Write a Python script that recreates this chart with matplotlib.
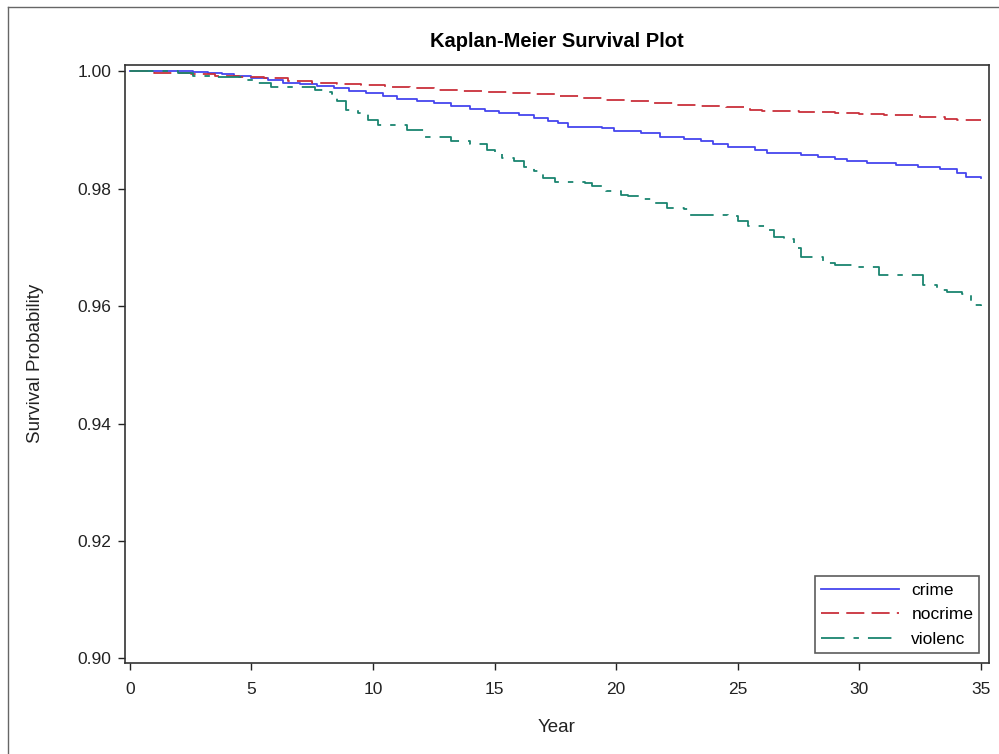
import matplotlib
matplotlib.use('Agg')
import matplotlib.pyplot as plt
from matplotlib.lines import Line2D

plt.rcParams['font.family'] = ['Liberation Sans', 'DejaVu Sans']

# Kaplan-Meier step estimates (year, survival)
crime_t = [0, 2.6, 3.2, 3.8, 4.3, 5.0, 5.7, 6.3, 7.0, 7.7, 8.4, 9.0, 9.7, 10.4, 11.0,
           11.8, 12.5, 13.2, 14.0, 14.6, 15.2, 16.0, 16.6, 17.2, 17.6, 18.0, 19.4,
           19.9, 21.0, 21.8, 22.8, 23.5, 24.0, 24.6, 25.7, 26.2, 27.6, 28.3, 29.0,
           29.5, 30.3, 31.5, 32.4, 33.3, 34.0, 34.4, 35.0]
crime_s = [1.0, 0.9999, 0.9997, 0.9995, 0.9992, 0.9989, 0.9985, 0.9981, 0.9978,
           0.9975, 0.9972, 0.9967, 0.9963, 0.9958, 0.9953, 0.9949, 0.9946, 0.9941,
           0.9936, 0.9933, 0.9930, 0.9926, 0.9921, 0.9916, 0.9912, 0.9906, 0.9903,
           0.9898, 0.9895, 0.9889, 0.9885, 0.9881, 0.9877, 0.9872, 0.9867, 0.9861,
           0.9858, 0.9855, 0.9851, 0.9848, 0.9844, 0.9840, 0.9837, 0.9833, 0.9827,
           0.9821, 0.9819]

nocrime_t = [0, 1.0, 2.5, 3.5, 4.5, 5.5, 6.5, 7.5, 8.5, 9.5, 10.5, 11.5, 12.5, 13.5,
             14.5, 15.5, 16.5, 17.5, 18.5, 19.5, 20.5, 21.5, 22.5, 23.5, 24.5, 25.5,
             26.0, 27.5, 29.0, 30.0, 31.0, 32.5, 33.5, 34.0, 35.0]
nocrime_s = [1.0, 0.9998, 0.9995, 0.9993, 0.9991, 0.9988, 0.9984, 0.9981, 0.9979,
             0.9977, 0.9974, 0.9971, 0.9969, 0.9967, 0.9965, 0.9963, 0.9961, 0.9958,
             0.9955, 0.9952, 0.9950, 0.9946, 0.9943, 0.9941, 0.9939, 0.9935, 0.9932,
             0.9931, 0.9929, 0.9927, 0.9925, 0.9923, 0.9919, 0.9917, 0.9917]

violenc_t = [0, 2.0, 2.6, 3.5, 4.6, 5.2, 5.8, 7.6, 8.0, 8.3, 8.5, 8.9, 9.4, 9.8, 10.2,
             11.4, 12.1, 13.2, 14.0, 14.7, 15.0, 15.3, 15.8, 16.2, 16.6, 17.0, 17.5,
             18.7, 19.0, 19.6, 20.2, 20.5, 21.1, 21.6, 22.1, 22.8, 23.0, 24.6, 25.0,
             25.4, 26.2, 26.5, 26.9, 27.3, 27.6, 28.5, 29.0, 29.9, 30.8, 32.6, 33.2,
             33.6, 34.2, 34.6, 35.0]
violenc_s = [1.0, 0.9997, 0.9992, 0.9990, 0.9985, 0.9980, 0.9973, 0.9969, 0.9965,
             0.9961, 0.9950, 0.9935, 0.9930, 0.9918, 0.9908, 0.9901, 0.9889, 0.9881,
             0.9876, 0.9867, 0.9860, 0.9853, 0.9848, 0.9838, 0.9830, 0.9818, 0.9812,
             0.9810, 0.9805, 0.9796, 0.9790, 0.9788, 0.9782, 0.9776, 0.9768, 0.9766,
             0.9755, 0.9754, 0.9745, 0.9736, 0.9730, 0.9718, 0.9714, 0.9700, 0.9684,
             0.9674, 0.9670, 0.9667, 0.9653, 0.9636, 0.9627, 0.9625, 0.9620, 0.9602,
             0.9600]

x_ticks = [0, 5, 10, 15, 20, 25, 30, 35]
y_ticks = [0.90, 0.92, 0.94, 0.96, 0.98, 1.00]

blue = '#4545ee'
red = '#c9303c'
teal = '#1a8570'

fig = plt.figure(figsize=(9.99, 7.54), dpi=100)
ax = fig.add_axes([0.1251, 0.1211, 0.8649, 0.7927])

ax.plot(crime_t, crime_s, drawstyle='steps-post', color=blue, lw=1.3, label='crime')
ax.plot(nocrime_t, nocrime_s, drawstyle='steps-post', color=red, lw=1.3,
        linestyle=(0, (10, 4)), label='nocrime')
ax.plot(violenc_t, violenc_s, drawstyle='steps-post', color=teal, lw=1.3,
        linestyle=(0, (13, 5, 3, 5)), label='violenc')

ax.set_xlim(-0.2, 35.33)
ax.set_ylim(0.89927, 1.0011)
ax.set_xticks(x_ticks)
ax.set_yticks(y_ticks)
ax.set_yticklabels(['%.2f' % v for v in y_ticks])
ax.tick_params(direction='out', length=5, width=1, labelsize=12.5, colors='#222222')
ax.tick_params(axis='x', pad=9)
ax.tick_params(axis='y', pad=5)
for side in ax.spines.values():
    side.set_linewidth(1.2)
    side.set_color('#333333')

ax.set_xlabel('Year', fontsize=13.5, color='#222222', labelpad=16)
ax.set_ylabel('Survival Probability', fontsize=13.5, color='#222222', labelpad=24)
ax.set_title('Kaplan-Meier Survival Plot', fontsize=14.5, fontweight='bold', pad=13)

leg = ax.legend(loc='lower right', fontsize=12.5, handlelength=4.5, frameon=True,
                fancybox=False, edgecolor='#333333', borderaxespad=0.55,
                labelspacing=0.55, borderpad=0.35, handletextpad=0.7)
leg.get_frame().set_linewidth(1.2)

# outer frame of the exported graph
fig.add_artist(Line2D([0.008, 1.0], [0.9907, 0.9907], color='#666666', lw=1,
                      transform=fig.transFigure))
fig.add_artist(Line2D([0.008, 0.008], [0.0, 0.9907], color='#666666', lw=1,
                      transform=fig.transFigure))

fig.savefig('out.png', dpi=100)
